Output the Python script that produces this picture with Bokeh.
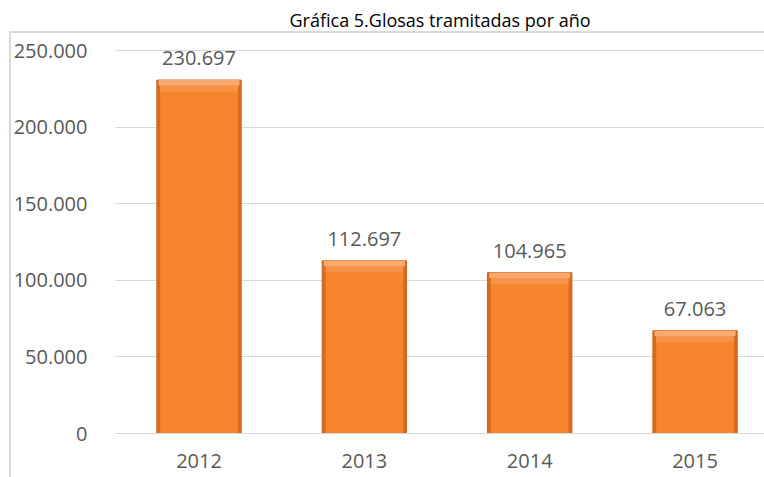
from bokeh.plotting import figure
from bokeh.models import Range1d, FixedTicker, ColumnDataSource, InlineStyleSheet
from bokeh.core.properties import value
from bokeh.embed import file_html
from bokeh.resources import INLINE

# ---- data ----
years = ["2012", "2013", "2014", "2015"]
glosas = [230697, 112697, 104965, 67063]
labels = ["230.697", "112.697", "104.965", "67.063"]
y_ticks = [0, 50000, 100000, 150000, 200000, 250000]
y_tick_labels = ["0", "50.000", "100.000", "150.000", "200.000", "250.000"]
title_text = "Gráfica 5.Glosas tramitadas por año"

xs = list(range(len(years)))
band1 = [v - 3500 for v in glosas]   # light bevel band (top)
band2 = [v - 7500 for v in glosas]   # softer second band
src = ColumnDataSource(dict(x=xs, top=glosas, b1=band1, b2=band2, label=labels))

FONT = "Open Sans"
GRAY = "#595959"

p = figure(width=764, height=477, output_backend="svg", toolbar_location=None,
           x_range=Range1d(-0.505, 3.42), y_range=Range1d(0, 260444),
           min_border_left=115, min_border_right=0, min_border_top=34, min_border_bottom=44)
p.background_fill_color = "white"
p.border_fill_color = "white"
p.outline_line_color = None

p.title.text = title_text
p.title.align = "center"
p.title.text_font = FONT
p.title.text_font_size = "18px"
p.title.text_font_style = "normal"
p.title.text_color = "black"
p.title.standoff = 6
p.title.offset = 0

# bars (bevel look)
p.vbar(x="x", top="top", bottom=0, width=0.51, source=src,
       fill_color="#D96A1F", line_color="#C8611D", line_width=1)
p.vbar(x="x", top="top", bottom=0, width=0.47, source=src,
       fill_color="#F6852E", line_color=None)
p.vbar(x="x", top="b1", bottom="b2", width=0.47, source=src,
       fill_color="#F8944A", line_color=None)
p.vbar(x="x", top="top", bottom="b1", width=0.49, source=src,
       fill_color="#FAAA70", line_color=None)

p.text(x="x", y="top", text="label", source=src, text_align="center",
       text_baseline="bottom", y_offset=-15, text_font=value(FONT),
       text_font_size="20px", text_color=GRAY)

# axes
p.yaxis.ticker = FixedTicker(ticks=y_ticks)
p.yaxis.major_label_overrides = {t: l for t, l in zip(y_ticks, y_tick_labels)}
p.yaxis.axis_line_color = None
p.yaxis.major_tick_line_color = None
p.yaxis.minor_tick_line_color = None
p.yaxis.major_label_standoff = 22
p.yaxis.major_label_text_font = FONT
p.yaxis.major_label_text_font_size = "20px"
p.yaxis.major_label_text_color = GRAY

p.xaxis.ticker = FixedTicker(ticks=xs)
p.xaxis.major_label_overrides = {i: y for i, y in zip(xs, years)}
p.xaxis.axis_line_color = "#D9D9D9"
p.xaxis.axis_line_width = 1
p.xaxis.major_tick_line_color = None
p.xaxis.minor_tick_line_color = None
p.xaxis.major_label_standoff = 14
p.xaxis.major_label_text_font = FONT
p.xaxis.major_label_text_font_size = "20px"
p.xaxis.major_label_text_color = GRAY

p.xgrid.grid_line_color = None
p.ygrid.grid_line_color = "#D9D9D9"
p.ygrid.grid_line_width = 1

# chart-area border (top and left), drawn as an overlay of the host element
p.stylesheets = [InlineStyleSheet(css="""
:host::after {
  content: "";
  position: absolute;
  left: 9px; top: 31px; right: 0; bottom: 0;
  border-left: 2px solid #D9D9D9;
  border-top: 2px solid #D9D9D9;
  pointer-events: none;
  z-index: 10;
}
""")]

open("out.html", "w").write(file_html(p, INLINE))
